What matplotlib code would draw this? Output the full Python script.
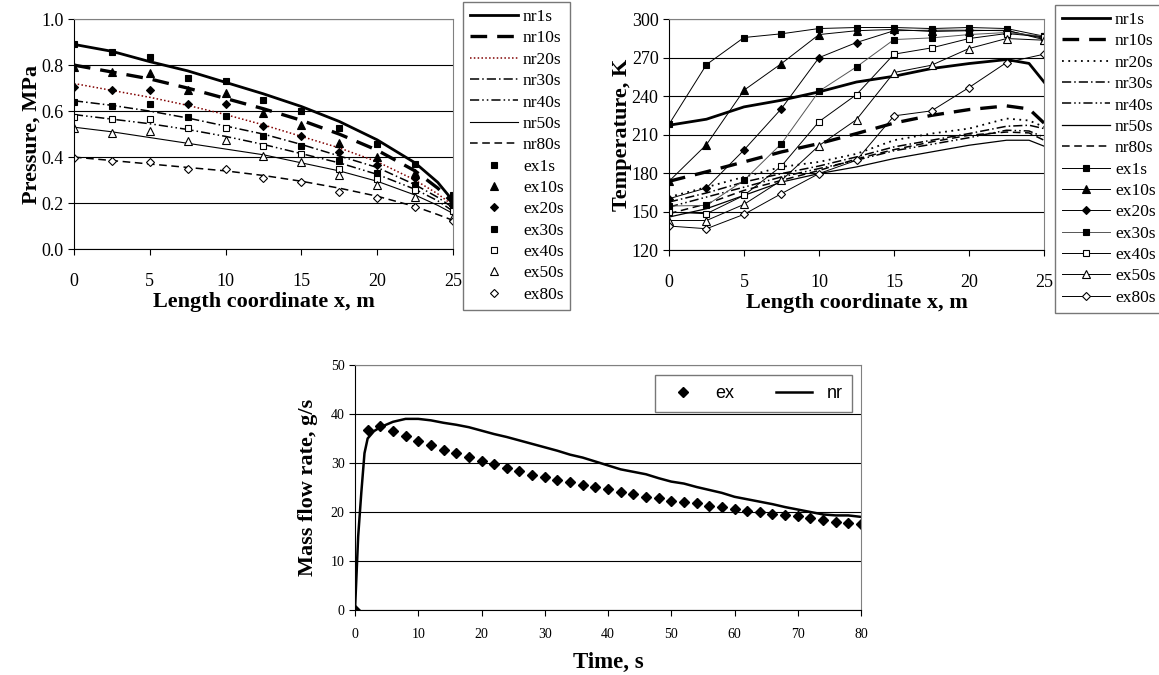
#!/usr/bin/env python3
# pressure / temperature profiles and mass flow rate, numerical vs experiment

import matplotlib
matplotlib.use("Agg")
import matplotlib.pyplot as plt

plt.rcParams['font.family'] = ['Liberation Serif', 'DejaVu Serif']

# ---- data -----------------------------------------------------------------
x_ex = [0, 2.5, 5, 7.5, 10, 12.5, 15, 17.5, 20, 22.5, 25]
x_nr = [0, 2.5, 5, 7.5, 10, 12.5, 15, 17.5, 20, 22.5, 24, 25]
labels_t = ['1s', '10s', '20s', '30s', '40s', '50s', '80s']

# pressure, MPa
p_nr1 = [0.89, 0.86, 0.815, 0.775, 0.725, 0.675, 0.62, 0.555, 0.475, 0.375, 0.29, 0.21]
p_nr10 = [0.80, 0.77, 0.74, 0.70, 0.655, 0.61, 0.56, 0.50, 0.43, 0.34, 0.265, 0.20]
p_nr20 = [0.72, 0.69, 0.66, 0.625, 0.585, 0.54, 0.49, 0.44, 0.38, 0.30, 0.24, 0.19]
p_nr30 = [0.645, 0.625, 0.60, 0.57, 0.535, 0.50, 0.455, 0.405, 0.355, 0.28, 0.225, 0.18]
p_nr40 = [0.585, 0.565, 0.545, 0.52, 0.49, 0.455, 0.415, 0.375, 0.325, 0.26, 0.21, 0.165]
p_nr50 = [0.53, 0.51, 0.485, 0.46, 0.435, 0.41, 0.375, 0.34, 0.295, 0.235, 0.19, 0.155]
p_nr80 = [0.40, 0.385, 0.37, 0.355, 0.34, 0.32, 0.295, 0.265, 0.23, 0.185, 0.15, 0.125]

p_ex1 = [0.89, 0.855, 0.835, 0.745, 0.73, 0.65, 0.60, 0.525, 0.455, 0.37, 0.235]
p_ex10 = [0.79, 0.77, 0.765, 0.69, 0.68, 0.59, 0.54, 0.46, 0.40, 0.33, 0.205]
p_ex20 = [0.705, 0.69, 0.69, 0.63, 0.63, 0.535, 0.49, 0.42, 0.365, 0.31, 0.20]
p_ex30 = [0.64, 0.62, 0.63, 0.575, 0.58, 0.49, 0.45, 0.385, 0.33, 0.28, 0.185]
p_ex40 = [0.575, 0.565, 0.565, 0.525, 0.525, 0.45, 0.415, 0.35, 0.305, 0.255, 0.165]
p_ex50 = [0.525, 0.505, 0.515, 0.47, 0.475, 0.405, 0.38, 0.32, 0.28, 0.225, 0.14]
p_ex80 = [0.395, 0.385, 0.38, 0.35, 0.35, 0.31, 0.29, 0.25, 0.22, 0.185, 0.12]

# temperature, K
t_nr1 = [217.3, 222, 231.6, 236.8, 243.3, 251, 255.5, 261.5, 265.4, 268.5, 265.5, 251]
t_nr10 = [173.6, 181, 188.7, 196.5, 203, 210.8, 219, 225, 229.5, 232.4, 230, 219]
t_nr20 = [161.3, 169, 177, 184.8, 188.7, 195, 205.6, 210.8, 214.7, 222.5, 221, 216]
t_nr30 = [157.4, 164.5, 173, 179.6, 185.5, 192.6, 200.4, 205.6, 210.8, 216.5, 217.3, 214.7]
t_nr40 = [153.5, 161.3, 169, 177, 183.5, 190, 197.4, 202.4, 207.6, 213.4, 212.8, 208]
t_nr50 = [145.7, 152.2, 162.6, 173, 179.6, 184.8, 191.3, 196.5, 201.7, 205.6, 205.6, 201]
t_nr80 = [148.3, 156, 166.5, 174.3, 182, 191, 198.3, 204.3, 209.5, 212, 211.3, 205.6]

t_ex1 = [218, 264.6, 285.7, 288.6, 292.7, 293.5, 293.5, 292.7, 293.5, 292.7, 286.7]
t_ex10 = [173.6, 202.2, 244.6, 265.4, 288, 291, 292, 290.4, 291, 291.4, 284]
t_ex20 = [160, 168.4, 198, 230.3, 270, 281.8, 291, 291.4, 291.4, 291, 285]
t_ex30 = [154.3, 154.8, 174.3, 203, 243.8, 262.8, 284.1, 285.4, 288, 289.6, 286.7]
t_ex40 = [149.6, 148.3, 162.6, 185.5, 220.1, 241.2, 272.7, 277.6, 284.9, 288.8, 286.2]
t_ex50 = [143, 143, 155.6, 174.3, 201.4, 221.7, 258.4, 264.1, 277.1, 284.9, 283.6]
t_ex80 = [138.7, 136.6, 147.8, 164, 179.6, 190, 224.6, 228.5, 246.7, 266.2, 272.7]

# mass flow rate, g/s
time_ex = list(range(0, 81, 2))
m_ex = [0, 36.8, 37.5, 36.5, 35.5, 34.5, 33.7, 32.7, 32.0, 31.2, 30.4, 29.7, 28.9,
        28.4, 27.6, 27.1, 26.6, 26.1, 25.6, 25.1, 24.6, 24.1, 23.6, 23.1, 22.8,
        22.3, 22.0, 21.8, 21.3, 21.0, 20.6, 20.3, 20.0, 19.6, 19.3, 19.1, 18.8,
        18.3, 18.0, 17.8, 17.5]
time_nr = [0, 0.5, 1, 1.5, 2, 3, 4, 6, 8, 10, 12, 14, 16, 18, 20, 22, 24, 26, 28,
           30, 32, 34, 36, 38, 40, 42, 44, 46, 48, 50, 52, 54, 56, 58, 60, 62, 64,
           66, 68, 70, 72, 74, 76, 78, 80]
m_nr = [0, 15, 24, 32, 35, 36.5, 37.3, 38.4, 39.0, 39.0, 38.7, 38.2, 37.8, 37.3,
        36.6, 35.9, 35.3, 34.6, 33.9, 33.2, 32.5, 31.7, 31.1, 30.3, 29.5, 28.7,
        28.2, 27.7, 26.9, 26.2, 25.8, 25.1, 24.5, 23.9, 23.1, 22.6, 22.1, 21.6,
        21.0, 20.5, 20.0, 19.5, 19.3, 19.3, 19.0]

# ---- styles ---------------------------------------------------------------
nr_styles = [
    dict(color='black', lw=2.0, ls='-'),
    dict(color='black', lw=2.4, ls=(0, (5, 3))),
    dict(color='#800000', lw=1.1, ls=(0, (1, 1.5))),
    dict(color='black', lw=1.1, ls=(0, (6, 2, 1, 2))),
    dict(color='black', lw=1.1, ls=(0, (6, 2, 1, 2, 1, 2))),
    dict(color='black', lw=0.8, ls='-'),
    dict(color='black', lw=1.1, ls=(0, (5, 3))),
]
ex_styles = [
    dict(marker='s', mfc='black', ms=5),
    dict(marker='^', mfc='black', ms=6),
    dict(marker='D', mfc='black', ms=4.5),
    dict(marker='s', mfc='black', ms=5),
    dict(marker='s', mfc='white', ms=5),
    dict(marker='^', mfc='white', ms=6),
    dict(marker='D', mfc='white', ms=4.5),
]

TICK = 13
LAB = 16
LEG = dict(fontsize=12.5, frameon=True, fancybox=False, edgecolor='#555555',
           handlelength=2.75, handletextpad=0.3, labelspacing=0.3,
           borderpad=0.4, borderaxespad=0, loc='upper left')


def style_axes(ax, tick_size, pad):
    ax.grid(True, axis='y', color='black', lw=0.8)
    ax.set_axisbelow(True)
    ax.spines['top'].set_color('#808080')
    ax.spines['right'].set_color('#808080')
    ax.tick_params(direction='out', length=4, labelsize=tick_size, width=0.8)
    ax.tick_params(axis='x', pad=pad)


fig = plt.figure(figsize=(11.59, 6.75), dpi=100)

# ---- pressure -------------------------------------------------------------
ax1 = fig.add_axes([0.0638, 0.631, 0.327, 0.3407])
p_nr = [p_nr1, p_nr10, p_nr20, p_nr30, p_nr40, p_nr50, p_nr80]
p_ex = [p_ex1, p_ex10, p_ex20, p_ex30, p_ex40, p_ex50, p_ex80]
h1 = []
for lab, y, st in zip(labels_t, p_nr, nr_styles):
    h1 += ax1.plot(x_nr, y, label='nr' + lab, **st)
for lab, y, st in zip(labels_t, p_ex, ex_styles):
    h1 += ax1.plot(x_ex, y, ls='none', mec='black', mew=0.8, label='ex' + lab, **st)
ax1.set_xlim(0, 25)
ax1.set_ylim(0, 1.0)
ax1.set_xticks([0, 5, 10, 15, 20, 25])
ax1.set_yticks([0, 0.2, 0.4, 0.6, 0.8, 1.0])
ax1.set_yticklabels(['0.0', '0.2', '0.4', '0.6', '0.8', '1.0'])
style_axes(ax1, TICK, 13)
ax1.set_xlabel('Length coordinate x, m', fontsize=LAB, fontweight='bold', labelpad=2)
ax1.set_ylabel('Pressure, MPa', fontsize=LAB, fontweight='bold', labelpad=0)
leg1 = ax1.legend(handles=h1, bbox_to_anchor=(463 / 1159, 1 - 2 / 675),
                  bbox_transform=fig.transFigure, **LEG)
leg1.get_frame().set_linewidth(1.0)

# ---- temperature ----------------------------------------------------------
ax2 = fig.add_axes([0.5772, 0.6296, 0.3236, 0.342])
t_nr = [t_nr1, t_nr10, t_nr20, t_nr30, t_nr40, t_nr50, t_nr80]
t_ex = [t_ex1, t_ex10, t_ex20, t_ex30, t_ex40, t_ex50, t_ex80]
nr_styles_t = [dict(st, color='black') for st in nr_styles]
nr_styles_t[2] = dict(color='black', lw=1.3, ls=(0, (1, 2.5)))
nr_styles_t[5] = dict(color='black', lw=0.9, ls='-')
h2 = []
for lab, y, st in zip(labels_t, t_nr, nr_styles_t):
    h2 += ax2.plot(x_nr, y, label='nr' + lab, **st)
ex_line_col = ['black', 'black', 'black', '#555555', 'black', 'black', 'black']
for lab, y, st, c in zip(labels_t, t_ex, ex_styles, ex_line_col):
    h2 += ax2.plot(x_ex, y, ls='-', lw=0.7, color=c, mec='black', mew=0.8,
                   label='ex' + lab, **st)
ax2.set_xlim(0, 25)
ax2.set_ylim(120, 300)
ax2.set_xticks([0, 5, 10, 15, 20, 25])
ax2.set_yticks([120, 150, 180, 210, 240, 270, 300])
style_axes(ax2, TICK, 13)
ax2.set_xlabel('Length coordinate x, m', fontsize=LAB, fontweight='bold', labelpad=2)
ax2.set_ylabel('Temperature, K', fontsize=LAB, fontweight='bold', labelpad=0)
leg2 = ax2.legend(handles=h2, bbox_to_anchor=(1055 / 1159, 1 - 5 / 675),
                  bbox_transform=fig.transFigure, **LEG)
leg2.get_frame().set_linewidth(1.0)

# ---- mass flow rate -------------------------------------------------------
ax3 = fig.add_axes([0.3063, 0.0963, 0.4366, 0.363])
ax3.plot(time_ex, m_ex, ls='none', marker='D', ms=5, color='black', label='ex')
ax3.plot(time_nr, m_nr, color='black', lw=1.8, label='nr')
ax3.set_xlim(0, 80)
ax3.set_ylim(0, 50)
ax3.set_xticks(range(0, 81, 10))
ax3.set_yticks(range(0, 51, 10))
style_axes(ax3, 10, 9)
ax3.set_xlabel('Time, s', fontsize=16.5, fontweight='bold', labelpad=8)
ax3.set_ylabel('Mass flow rate, g/s', fontsize=LAB, fontweight='bold', labelpad=9)
leg3 = ax3.legend(loc='upper right', bbox_to_anchor=(0.983, 0.959), ncol=2,
                  prop={'family': 'Liberation Sans', 'size': 13}, frameon=True,
                  fancybox=False, edgecolor='#555555', handlelength=2.0,
                  handletextpad=0.8, columnspacing=2.3, borderpad=0.55,
                  borderaxespad=0)
leg3.get_frame().set_linewidth(1.0)

fig.savefig('out.png', dpi=100)
